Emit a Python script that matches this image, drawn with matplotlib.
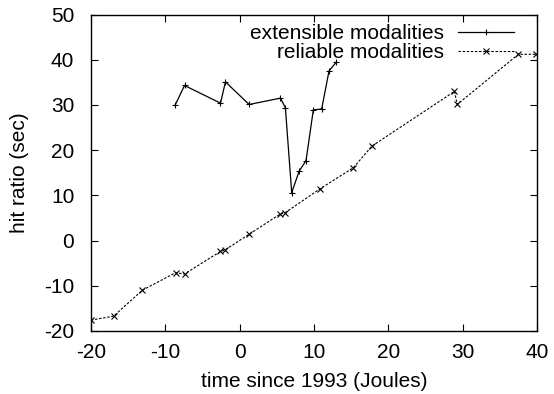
import matplotlib.pyplot as plt

plt.rcParams['font.family'] = ['Liberation Sans', 'DejaVu Sans']
plt.rcParams['axes.unicode_minus'] = False

# extensible modalities
ext_x = [-8.67, -7.42, -2.58, -1.91, 1.27, 5.48, 6.15, 7.0, 7.99, 8.93, 9.91, 11.03, 12.02, 12.96]
ext_y = [30.0, 34.3, 30.4, 35.1, 30.1, 31.5, 29.4, 10.6, 15.3, 17.7, 28.9, 29.1, 37.5, 39.4]

# reliable modalities
rel_x = [-20.0, -16.95, -13.1, -8.63, -7.42, -2.58, -2.0, 1.27, 5.48, 6.15, 10.77,
         15.29, 17.8, 28.9, 29.26, 37.5, 39.83]
rel_y = [-17.6, -16.7, -11.0, -7.1, -7.4, -2.4, -2.1, 1.4, 5.9, 6.2, 11.4,
         16.1, 20.9, 33.0, 30.1, 41.2, 41.2]

x_ticks = [-20, -10, 0, 10, 20, 30, 40]
y_ticks = [-20, -10, 0, 10, 20, 30, 40, 50]

W, H = 554, 394
fig = plt.figure(figsize=(W / 100, H / 100), dpi=100)
ax = fig.add_axes([91 / W, 1 - 331 / H, (537 - 91) / W, (331 - 14.5) / H])

ax.plot(ext_x, ext_y, color='black', lw=0.9, marker='+', ms=5, mew=0.8,
        label='extensible modalities')
ax.plot(rel_x, rel_y, color='black', lw=0.8, ls=(0, (2.2, 1.5)), marker='x', ms=4, mew=0.8,
        label='reliable modalities')

ax.set_xlim(-20, 40)
ax.set_ylim(-20, 50)
ax.set_xticks(x_ticks)
ax.set_yticks(y_ticks)
ax.tick_params(direction='in', top=True, right=True, length=5, width=0.8,
               labelsize=15)
ax.tick_params(axis='x', pad=9)
ax.tick_params(axis='y', pad=12)
for s in ax.spines.values():
    s.set_linewidth(1.0)

ax.set_xlabel('time since 1993 (Joules)', fontsize=15, labelpad=7)
ax.set_ylabel('hit ratio (sec)', fontsize=15, labelpad=11)

ax.legend(loc='upper right', bbox_to_anchor=(514 / W, 1 - 24 / H),
          bbox_transform=fig.transFigure, frameon=False, markerfirst=False,
          fontsize=15, handlelength=2.7, handletextpad=0.65, labelspacing=0.0,
          numpoints=1, borderaxespad=0, borderpad=0)

fig.savefig('out.png', dpi=100)
